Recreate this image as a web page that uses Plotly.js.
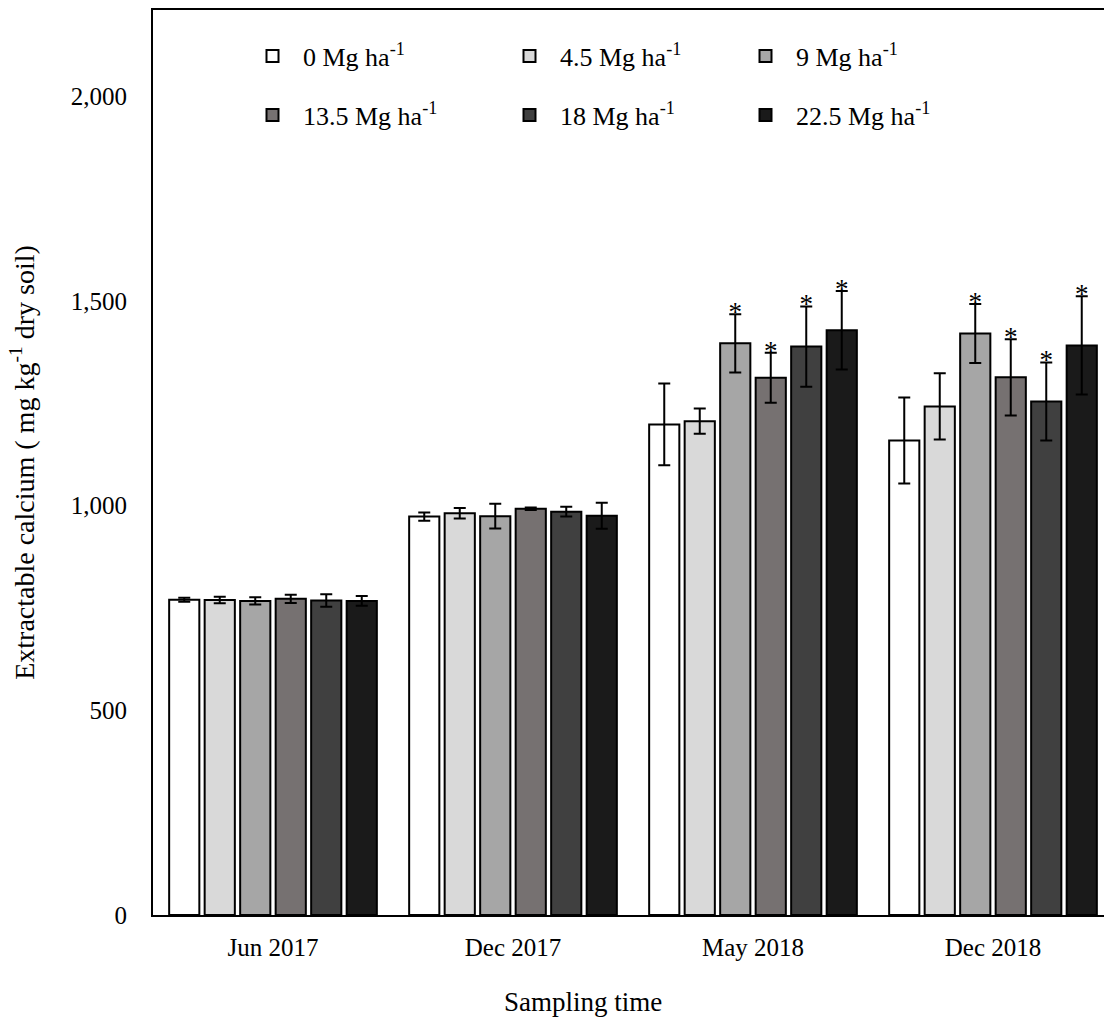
<!DOCTYPE html>
<html>
<head>
<meta charset="utf-8">
<script src="https://cdn.plot.ly/plotly-3.0.1.min.js"></script>
<style>html,body{margin:0;padding:0;background:#fff;}#chart{width:1104px;height:1019px;}</style>
</head>
<body>
<div id="chart"></div>
<script>
// ---- data ----
const categories = ['Jun 2017', 'Dec 2017', 'May 2018', 'Dec 2018'];
const seriesNames = ['0 Mg ha<sup>-1</sup>', '4.5 Mg ha<sup>-1</sup>', '9 Mg ha<sup>-1</sup>',
                     '13.5 Mg ha<sup>-1</sup>', '18 Mg ha<sup>-1</sup>', '22.5 Mg ha<sup>-1</sup>'];
const rate0   = [770, 973, 1198, 1159];
const rate4_5 = [769, 981, 1206, 1242];
const rate9   = [767, 974, 1396, 1420];
const rate13_5= [772, 992, 1312, 1313];
const rate18  = [768, 985, 1388, 1254];
const rate22_5= [767, 975, 1428, 1391];
const err0    = [5, 10, 100, 105];
const err4_5  = [8, 13, 31, 81];
const err9    = [9, 30, 71, 72];
const err13_5 = [10, 3, 61, 93];
const err18   = [15, 12, 98, 95];
const err22_5 = [12, 32, 96, 120];
const sig0    = ['', '', '', ''];
const sig4_5  = ['', '', '', ''];
const sig9    = ['', '', '*', '*'];
const sig13_5 = ['', '', '*', '*'];
const sig18   = ['', '', '*', '*'];
const sig22_5 = ['', '', '*', '*'];
const yTicks = [0, 500, 1000, 1500, 2000];

// ---- styling ----
const values = [rate0, rate4_5, rate9, rate13_5, rate18, rate22_5];
const errors = [err0, err4_5, err9, err13_5, err18, err22_5];
const sigs = [sig0, sig4_5, sig9, sig13_5, sig18, sig22_5];
const colors = ['#FFFFFF', '#D9D9D9', '#A6A6A6', '#767171', '#404040', '#1A1A1A'];
const FONT = 'Liberation Serif';
const BARGAP = 0.1125;
const legendIds = ['legend', 'legend2', 'legend3', 'legend4', 'legend5', 'legend6'];
// legend marker centres (px) -> paper positions
const legendMarkerX = [270, 527, 763, 270, 527, 763];
const legendRowY = [56, 56, 56, 115, 115, 115];
const LEG_ITEMW = 51;

const traces = [];
values.forEach((v, i) => {
  traces.push({
    type: 'bar', x: categories, y: v, name: seriesNames[i],
    offsetgroup: 'g' + i,
    legend: legendIds[i],
    marker: {color: colors[i], line: {color: '#000', width: 2}},
    error_y: {type: 'data', array: errors[i], visible: true, color: '#000', thickness: 2, width: 6},
    hoverinfo: 'x+y'
  });
});
values.forEach((v, i) => {
  traces.push({
    type: 'scatter', mode: 'text', x: categories,
    y: v.map((d, k) => d + errors[i][k]),
    text: sigs[i], textposition: 'middle center',
    textfont: {family: FONT, size: 27, color: '#000'},
    offsetgroup: 'g' + i, showlegend: false, hoverinfo: 'skip'
  });
});

const layout = {
  width: 1104, height: 1019,
  margin: {l: 153, r: 0, t: 10, b: 104},
  paper_bgcolor: '#fff', plot_bgcolor: '#fff',
  font: {family: FONT, size: 25, color: '#000'},
  barmode: 'group', bargap: BARGAP, bargroupgap: 0.15,
  scattermode: 'group', scattergap: BARGAP,
  xaxis: {
    type: 'category', range: [-0.5, 3.4625], fixedrange: true,
    showline: true, linecolor: '#000', linewidth: 2, mirror: true,
    ticks: '', showgrid: false, zeroline: false,
    tickfont: {family: FONT, size: 25, color: '#000'}, ticklabelstandoff: 9
  },
  yaxis: {
    range: [0, 2210], tickvals: yTicks, tickformat: ',',
    showline: true, linecolor: '#000', linewidth: 2, mirror: false,
    ticks: '', showgrid: false, zeroline: false,
    tickfont: {family: FONT, size: 25, color: '#000'}, ticklabelstandoff: 19,
    title: {text: 'Extractable calcium ( mg kg<sup>-1</sup> dry soil)', font: {family: FONT, size: 28, color: '#000'}, standoff: 28}
  },
  annotations: [{
    text: 'Sampling time', xref: 'paper', yref: 'paper',
    x: (583 - 153) / 951, y: -(1002 - 915) / 905, xanchor: 'center', yanchor: 'middle',
    showarrow: false, font: {family: FONT, size: 27, color: '#000'}
  }],
  showlegend: true
};
legendIds.forEach((id, i) => {
  layout[id] = {
    orientation: 'v', xanchor: 'left', yanchor: 'middle',
    x: (legendMarkerX[i] - (LEG_ITEMW / 2 + 2.5) - 153) / 951,
    y: (915 - legendRowY[i]) / 905,
    font: {family: FONT, size: 26, color: '#000'},
    bgcolor: 'rgba(0,0,0,0)', borderwidth: 0, itemwidth: LEG_ITEMW
  };
});

Plotly.newPlot('chart', traces, layout, {displayModeBar: false, staticPlot: true});
</script>
</body>
</html>
